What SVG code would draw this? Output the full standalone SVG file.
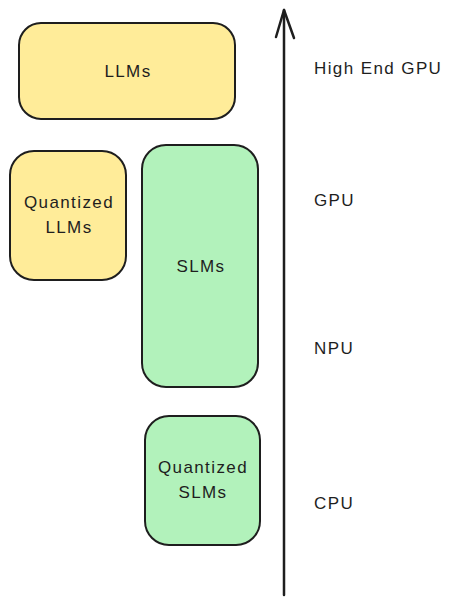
<svg xmlns="http://www.w3.org/2000/svg" width="456" height="606" viewBox="0 0 456 606">
<style>
.box{stroke:#1e1e1e;stroke-width:2;}
.y{fill:#ffec99;}
.g{fill:#b2f2bb;}
text{font-family:"Liberation Sans","DejaVu Sans",sans-serif;font-size:17px;letter-spacing:1.4px;fill:#1e1e1e;}
.c{text-anchor:middle;}
.ax{stroke:#1e1e1e;stroke-width:2.5;fill:none;stroke-linecap:round;stroke-linejoin:round;}
</style>
<rect width="456" height="606" fill="#ffffff"/>
<g id="llms">
<rect class="box y" x="19" y="23" width="216" height="96" rx="22"/>
<text class="c" x="128" y="77">LLMs</text>
</g>
<g id="quantized-llms">
<rect class="box y" x="10" y="151" width="116" height="129" rx="24"/>
<text class="c" x="69" y="208">Quantized</text>
<text class="c" x="69" y="233">LLMs</text>
</g>
<g id="slms">
<rect class="box g" x="142" y="145" width="116" height="242" rx="24"/>
<text class="c" x="201" y="272">SLMs</text>
</g>
<g id="quantized-slms">
<rect class="box g" x="145" y="416" width="115" height="129" rx="24"/>
<text class="c" x="203" y="473">Quantized</text>
<text class="c" x="203" y="498">SLMs</text>
</g>
<g id="connectors">
<path class="ax" d="M284 595 L284 10"/>
<path class="ax" d="M276 37 L284 10 L294 38"/>
</g>
<g id="labels">
<text x="314" y="74">High End GPU</text>
<text x="314" y="206">GPU</text>
<text x="314" y="354">NPU</text>
<text x="314" y="509">CPU</text>
</g>
</svg>
